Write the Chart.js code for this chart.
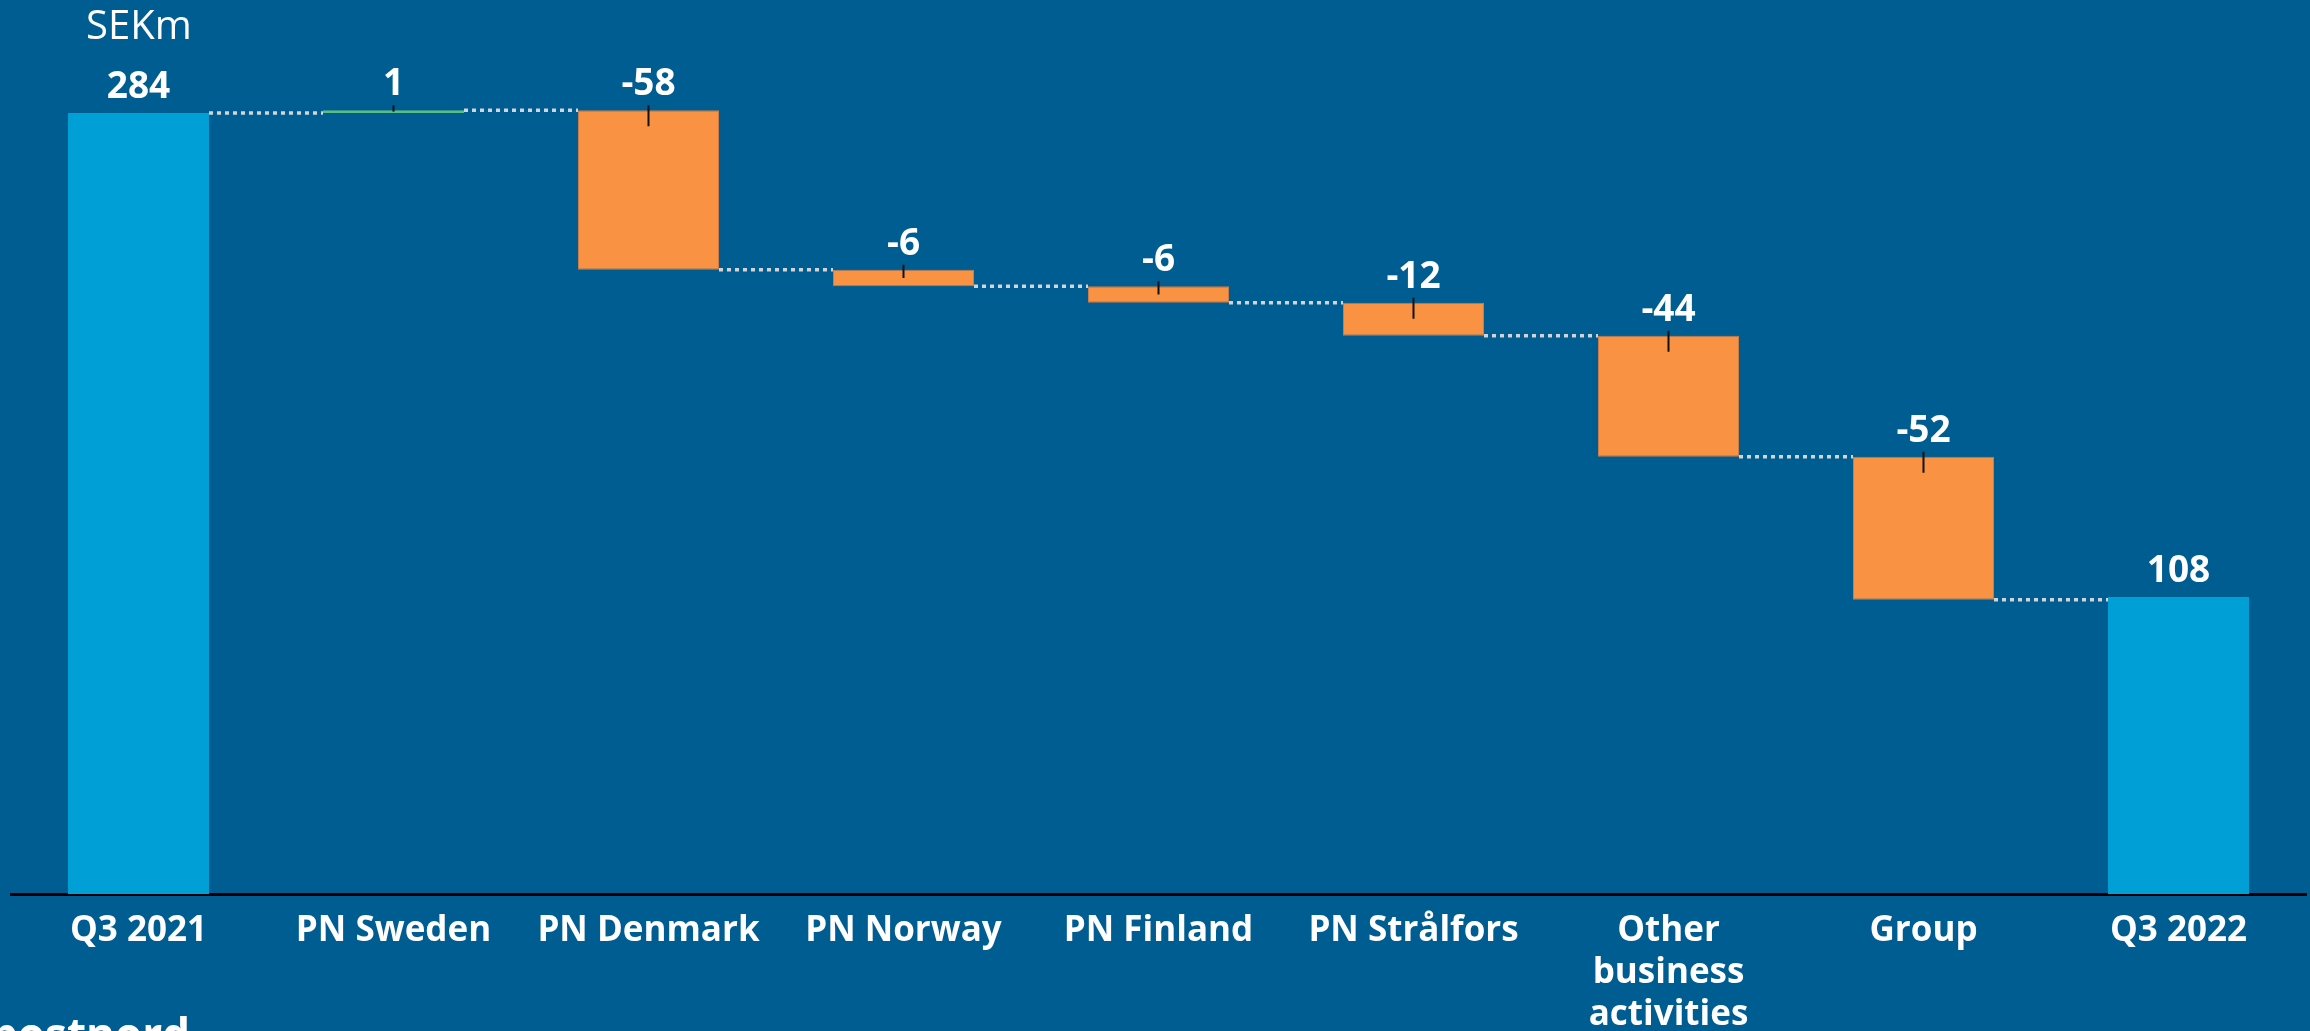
<!DOCTYPE html>
<html>
<head>
<meta charset="utf-8">
<script src="https://cdn.jsdelivr.net/npm/chart.js@4.4.1/dist/chart.umd.min.js"></script>
<style>
  html, body { margin: 0; padding: 0; background: #005d92; overflow: hidden; }
  canvas { display: block; }
</style>
</head>
<body>
<canvas id="myChart" width="2310" height="1031"></canvas>
<script>
// datos del gráfico (SEKm)
const categorias = ["Q3 2021", "PN Sweden", "PN Denmark", "PN Norway", "PN Finland", "PN Strålfors", ["Other", "business", "activities"], "Group", "Q3 2022"];
const tipos = ["total", "delta", "delta", "delta", "delta", "delta", "delta", "delta", "total"];
const valores = [284, 1, -58, -6, -6, -12, -44, -52, 108];
const etiquetas = ["284", "1", "-58", "-6", "-6", "-12", "-44", "-52", "108"];

const AZUL_CLARO = "#00a0d6";
const NARANJA = "#f99242";
const VERDE = "#5bbd84";

// barras flotantes [inicio, fin]
let acumulado = 0;
const rangos = valores.map((v, i) => {
  if (tipos[i] === "total") {
    acumulado = v;
    return [0, v];
  }
  const inicio = acumulado;
  acumulado += v;
  return [inicio, acumulado];
});
const colores = valores.map((v, i) => tipos[i] === "total" ? AZUL_CLARO : (v >= 0 ? VERDE : NARANJA));
const bordes = valores.map((v, i) => tipos[i] === "total" ? AZUL_CLARO : (v >= 0 ? VERDE : "#c97c4a"));
const grosores = valores.map((v, i) => tipos[i] === "total" ? 0 : (v >= 0 ? 2.5 : 1));

const FUENTE = "'Open Sans', 'DejaVu Sans', sans-serif";

// conectores, marcas y etiquetas de valor
const extras = {
  id: "extras",
  afterDatasetsDraw(chart) {
    const ctx = chart.ctx;
    const meta = chart.getDatasetMeta(0);
    const y = chart.scales.y;

    // líneas punteadas entre barras
    ctx.save();
    ctx.strokeStyle = "#d4d4d4";
    ctx.lineWidth = 3.5;
    ctx.setLineDash([4, 4]);
    for (let i = 0; i < meta.data.length - 1; i++) {
      const a = meta.data[i];
      const b = meta.data[i + 1];
      const nivel = y.getPixelForValue(rangos[i][1]);
      ctx.beginPath();
      ctx.moveTo(a.x + a.width / 2, nivel);
      ctx.lineTo(b.x - b.width / 2, nivel);
      ctx.stroke();
    }
    ctx.restore();

    // marcas negras en las barras de variación
    ctx.save();
    ctx.strokeStyle = "#111111";
    ctx.lineWidth = 2;
    meta.data.forEach((bar, i) => {
      if (tipos[i] !== "delta") return;
      const arriba = Math.min(bar.y, bar.base);
      const abajo = Math.max(bar.y, bar.base);
      const fin = Math.min(arriba + 16, (arriba + abajo) / 2);
      ctx.beginPath();
      ctx.moveTo(bar.x, arriba - 5);
      ctx.lineTo(bar.x, fin);
      ctx.stroke();
    });
    ctx.restore();

    // etiquetas de valor
    ctx.save();
    ctx.fillStyle = "#ffffff";
    ctx.font = "bold 37px " + FUENTE;
    ctx.textAlign = "center";
    ctx.textBaseline = "alphabetic";
    meta.data.forEach((bar, i) => {
      const arriba = Math.min(bar.y, bar.base);
      ctx.fillText(etiquetas[i], bar.x, arriba - 15);
    });
    ctx.restore();
  },
  afterDraw(chart) {
    const ctx = chart.ctx;
    ctx.save();
    ctx.fillStyle = "#ffffff";
    ctx.font = "40px " + FUENTE;
    ctx.textAlign = "left";
    ctx.textBaseline = "alphabetic";
    ctx.fillText("SEKm", 86, 39);
    ctx.font = "bold 44px " + FUENTE;
    ctx.fillText("postnord", -10, 1050);
    ctx.restore();
  }
};

const config = {
  type: "bar",
  data: {
    labels: categorias,
    datasets: [
      {
        data: rangos,
        backgroundColor: colores,
        borderColor: bordes,
        borderWidth: grosores,
        borderSkipped: false,
        barPercentage: 0.553,
        categoryPercentage: 1
      }
    ]
  },
  options: {
    responsive: false,
    devicePixelRatio: 1,
    animation: false,
    layout: { padding: { left: 11, right: 4, top: 69, bottom: 0 } },
    plugins: {
      legend: { display: false },
      tooltip: { enabled: false }
    },
    scales: {
      x: {
        grid: { display: false, drawTicks: false },
        border: { display: true, color: "#000000", width: 3 },
        ticks: {
          color: "#ffffff",
          padding: 16,
          maxRotation: 0,
          autoSkip: false,
          font: { family: FUENTE, size: 35, weight: "bold", lineHeight: 1.2 }
        },
        afterFit(scale) { scale.height = 137; }
      },
      y: {
        display: false,
        min: 0,
        max: 300
      }
    }
  },
  plugins: [extras]
};

const ctx = document.getElementById("myChart");
new Chart(ctx, config);
</script>
</body>
</html>
